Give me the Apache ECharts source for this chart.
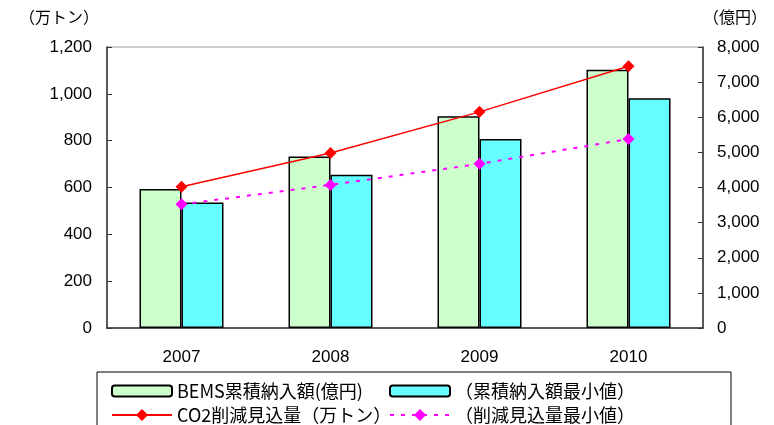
<!DOCTYPE html>
<html>
<head>
<meta charset="utf-8">
<script src="https://cdn.jsdelivr.net/npm/echarts@6/dist/echarts.min.js"></script>
<style>
html,body{margin:0;padding:0;background:#fff;}
#main{width:774px;height:425px;}
</style>
</head>
<body>
<div id="main"></div>
<script>
var years = ['2007', '2008', '2009', '2010'];
var bemsTotal = [3960, 4880, 6030, 7350];      // 億円
var bemsMin = [3570, 4360, 5380, 6540];        // 億円
var co2Cut = [603, 747, 923, 1118];            // 万トン
var co2CutMin = [528, 611, 701, 807];          // 万トン

var names = ['BEMS累積納入額(億円)', '（累積納入額最小値）', 'CO2削減見込量（万トン）', '（削減見込量最小値）'];

var fontNum = 'Liberation Sans, Noto Sans CJK JP, sans-serif';
var fontJp = 'Noto Sans CJK JP, sans-serif';

var myChart = echarts.init(document.getElementById('main'));

// one legend per item so the 2x2 grid lines up like the original
function legendAt(name, left, top, h) {
    return {
        left: left,
        top: top,
        itemWidth: 60,
        itemHeight: h,
        data: [name],
        textStyle: {fontFamily: fontJp, fontSize: 18, color: '#000'}
    };
}

var option = {
    animation: false,
    backgroundColor: '#fff',
    grid: {
        left: 107,
        right: 71,
        top: 47,
        bottom: 97,
        show: true,
        borderColor: '#999',
        borderWidth: 1
    },
    graphic: [
        {
            type: 'text', left: 19, top: 9,
            style: {text: '（万トン）', font: '16px ' + fontJp, fill: '#000'}
        },
        {
            type: 'text', left: 703, top: 9,
            style: {text: '（億円）', font: '16px ' + fontJp, fill: '#000'}
        },
        {
            type: 'rect',
            shape: {x: 97, y: 372, width: 634, height: 70},
            style: {fill: 'none', stroke: '#000', lineWidth: 1},
            z: 0
        }
    ],
    legend: [
        legendAt(names[0], 106, 377, 11),
        legendAt(names[1], 384, 377, 11),
        legendAt(names[2], 106, 401, 15),
        legendAt(names[3], 384, 401, 15)
    ],
    xAxis: {
        type: 'category',
        data: years,
        axisLine: {lineStyle: {color: '#333', width: 1.5}},
        axisTick: {inside: true, length: 5, lineStyle: {color: '#333'}},
        axisLabel: {fontFamily: fontNum, fontSize: 17, color: '#000', margin: 21}
    },
    yAxis: [
        {
            type: 'value',
            min: 0,
            max: 1200,
            interval: 200,
            position: 'left',
            splitLine: {show: false},
            axisLine: {show: true, lineStyle: {color: '#333', width: 1.5}},
            axisTick: {show: true, inside: true, length: 5, lineStyle: {color: '#333'}},
            axisLabel: {
                fontFamily: fontNum, fontSize: 17, color: '#000', margin: 15,
                formatter: function (v) { return v.toLocaleString('en-US'); }
            }
        },
        {
            type: 'value',
            min: 0,
            max: 8000,
            interval: 1000,
            position: 'right',
            splitLine: {show: false},
            axisLine: {show: true, lineStyle: {color: '#333', width: 1.5}},
            axisTick: {show: true, inside: true, length: 5, lineStyle: {color: '#333'}},
            axisLabel: {
                fontFamily: fontNum, fontSize: 17, color: '#000', margin: 14,
                formatter: function (v) { return v.toLocaleString('en-US'); }
            }
        }
    ],
    series: [
        {
            name: names[0],
            type: 'bar',
            yAxisIndex: 1,
            barWidth: 42,
            barGap: '0%',
            data: bemsTotal,
            itemStyle: {color: '#CCFFCC', borderColor: '#000', borderWidth: 1.5}
        },
        {
            name: names[1],
            type: 'bar',
            yAxisIndex: 1,
            barWidth: 42,
            barGap: '0%',
            data: bemsMin,
            itemStyle: {color: '#66FFFF', borderColor: '#000', borderWidth: 1.5}
        },
        {
            name: names[2],
            type: 'line',
            yAxisIndex: 0,
            data: co2Cut,
            symbol: 'diamond',
            symbolSize: 12,
            lineStyle: {color: '#FF0000', width: 1.5},
            itemStyle: {color: '#FF0000'},
            z: 5
        },
        {
            name: names[3],
            type: 'line',
            yAxisIndex: 0,
            data: co2CutMin,
            symbol: 'diamond',
            symbolSize: 12,
            lineStyle: {color: '#FF00FF', width: 2, type: [4, 7]},
            itemStyle: {color: '#FF00FF'},
            z: 5
        }
    ]
};

myChart.setOption(option);
</script>
</body>
</html>
